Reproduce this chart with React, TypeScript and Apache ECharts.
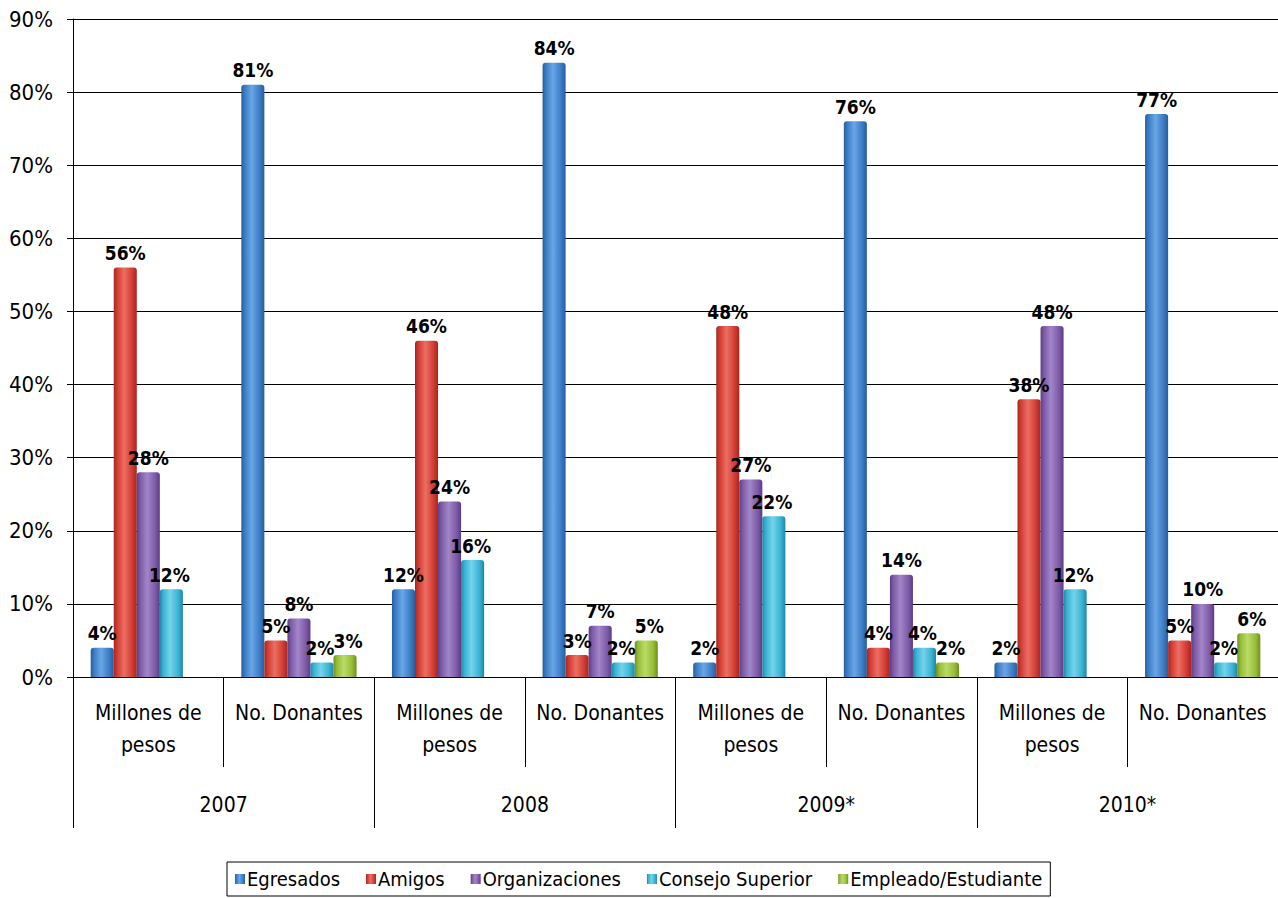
import React, { useEffect, useRef } from "react";
import * as echarts from "echarts";

const categories = [
  "Millones de\npesos", "No. Donantes",
  "Millones de\npesos", "No. Donantes",
  "Millones de\npesos", "No. Donantes",
  "Millones de\npesos", "No. Donantes",
];
const years = ["2007", "2008", "2009*", "2010*"];
const yTicks = [0, 10, 20, 30, 40, 50, 60, 70, 80, 90];

const egresados = [4, 81, 12, 84, 2, 76, 2, 77];
const amigos = [56, 5, 46, 3, 48, 4, 38, 5];
const organizaciones = [28, 8, 24, 7, 27, 14, 48, 10];
const consejo = [12, 2, 16, 2, 22, 4, 12, 2];
const empleado = [null, 3, null, 5, null, 2, null, 6];

const seriesNames = ["Egresados", "Amigos", "Organizaciones", "Consejo Superior", "Empleado/Estudiante"];
const seriesData = [egresados, amigos, organizaciones, consejo, empleado];
const palette = [
  { base: "#3b7cc6", light: "#6aa6e6", dark: "#2a5c9a" },
  { base: "#d23c32", light: "#ec6e63", dark: "#a3271f" },
  { base: "#7d5aa8", light: "#a286c8", dark: "#5b3d84" },
  { base: "#39b3d3", light: "#74d3ea", dark: "#2186a4" },
  { base: "#96bd37", light: "#badb68", dark: "#6c8f20" },
];
const labelShift = [0, 0, 0, -2, 3];

const FONT = "'DejaVu Sans Condensed', 'Liberation Sans Narrow', sans-serif";

export default function App() {
  const ref = useRef<HTMLDivElement>(null);
  useEffect(() => {
    document.body.style.margin = "0";
    const chart = echarts.init(ref.current!, null, { renderer: "svg" });
    const series = seriesNames.map((name, i) => ({
      name,
      type: "bar",
      xAxisIndex: 0,
      data: seriesData[i],
      barGap: "0%",
      barCategoryGap: "23.5%",
      itemStyle: {
        color: new echarts.graphic.LinearGradient(0, 0, 1, 0, [
          { offset: 0, color: palette[i].dark },
          { offset: 0.15, color: palette[i].base },
          { offset: 0.45, color: palette[i].light },
          { offset: 0.8, color: palette[i].base },
          { offset: 1, color: palette[i].dark },
        ]),
        borderRadius: [3, 3, 0, 0],
      },
      label: {
        show: true,
        position: "top",
        distance: 5,
        offset: [labelShift[i], 0],
        formatter: (p: any) => p.value + "%",
        fontFamily: FONT,
        fontWeight: "bold",
        fontSize: 19,
        color: "#000",
      },
    }));
    chart.setOption({
      animation: false,
      backgroundColor: "#fff",
      textStyle: { fontFamily: FONT },
      grid: { left: 73, right: 0, top: 19, bottom: 221, containLabel: false },
      legend: {
        data: seriesNames,
        top: 862,
        left: 227,
        icon: "rect",
        itemWidth: 10,
        itemHeight: 10,
        itemGap: 26,
        borderColor: "#000",
        borderWidth: 1,
        padding: [7, 8, 7, 8],
        textStyle: { fontFamily: FONT, fontSize: 20, color: "#000", padding: [0, 0, 0, -3] },
      },
      xAxis: [
        {
          type: "category",
          data: categories,
          position: "bottom",
          axisLine: { show: true, lineStyle: { color: "#000", width: 1 } },
          axisTick: { show: true, length: 90, interval: 0, lineStyle: { color: "#000" } },
          axisLabel: {
            interval: 0,
            margin: 20,
            fontFamily: FONT,
            fontSize: 21,
            lineHeight: 32,
            color: "#000",
          },
          splitLine: { show: false },
        },
        {
          type: "category",
          data: years,
          position: "bottom",
          axisLine: { show: false },
          axisTick: { show: true, length: 151, interval: 0, lineStyle: { color: "#000" } },
          axisLabel: {
            interval: 0,
            margin: 117,
            fontFamily: FONT,
            fontSize: 21,
            color: "#000",
          },
          splitLine: { show: false },
        },
      ],
      yAxis: {
        type: "value",
        min: 0,
        max: 90,
        interval: 10,
        axisLine: { show: true, lineStyle: { color: "#000" } },
        axisTick: { show: true, length: 6, lineStyle: { color: "#000" } },
        axisLabel: {
          margin: 20,
          fontFamily: FONT,
          fontSize: 22,
          color: "#000",
          formatter: (v: number) => (yTicks.includes(v) ? v + "%" : ""),
        },
        splitLine: { show: true, lineStyle: { color: "#000", width: 1 } },
      },
      series,
    });
    return () => chart.dispose();
  }, []);
  return <div ref={ref} style={{ width: 1278, height: 898 }} />;
}
